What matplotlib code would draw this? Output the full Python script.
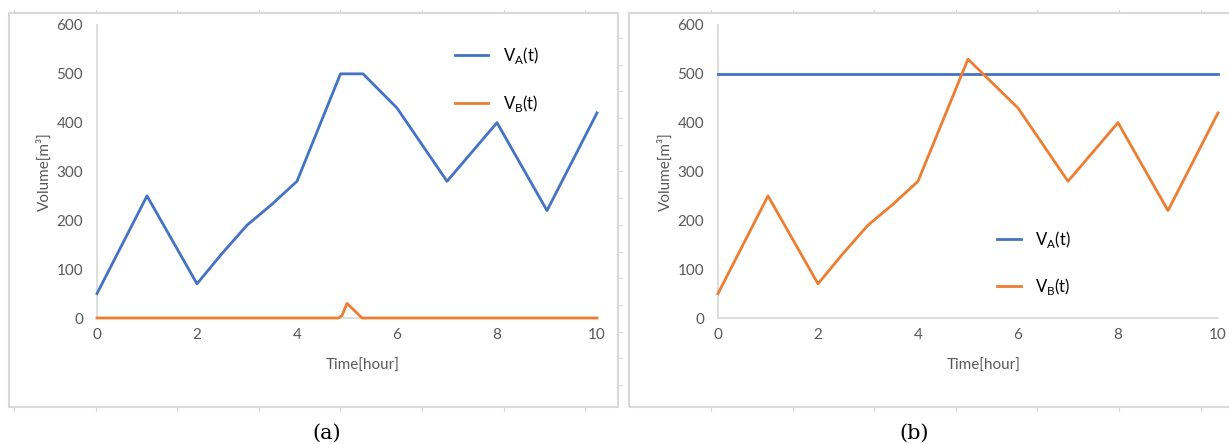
import matplotlib
matplotlib.use('Agg')
import matplotlib.pyplot as plt
from matplotlib.patches import Rectangle
from matplotlib.lines import Line2D

plt.rcParams['font.family'] = ['Lato', 'DejaVu Sans']

# tank volumes over time, case (a)
t_a_A = [0, 1, 2, 2.5, 3, 3.5, 4, 4.87, 5.32, 6, 7, 8, 9, 10]
vol_a_A = [50, 250, 70, 132, 190, 233, 280, 500, 500, 430, 280, 400, 220, 420]
t_a_B = [0, 4.83, 4.9, 5.0, 5.3, 10]
vol_a_B = [0, 0, 5, 30, 0, 0]

# case (b)
t_b_A = [0, 10]
vol_b_A = [500, 500]
t_b_B = [0, 1, 2, 2.5, 3, 3.5, 4, 5, 6, 7, 8, 9, 10]
vol_b_B = [50, 250, 70, 132, 190, 233, 280, 530, 430, 280, 400, 220, 420]

xticks = [0, 2, 4, 6, 8, 10]
yticks = [0, 100, 200, 300, 400, 500, 600]
captions = ['(a)', '(b)']

BLUE = '#4472C4'
ORANGE = '#ED7D31'
GREY_TXT = '#595959'
GREY_LINE = '#D9D9D9'

W, H = 1229, 444
fig = plt.figure(figsize=(W / 100, H / 100), dpi=100)


def fx(px):
    return px / W


def fy(py):
    return 1 - py / H


def style_axes(ax):
    ax.set_xlim(0, 10)
    ax.set_ylim(0, 600)
    ax.set_xticks(xticks)
    ax.set_yticks(yticks)
    for s in ['top', 'right']:
        ax.spines[s].set_visible(False)
    ax.spines['left'].set_color(GREY_LINE)
    ax.spines['bottom'].set_color(GREY_LINE)
    ax.spines['left'].set_linewidth(1.2)
    ax.spines['bottom'].set_linewidth(1.2)
    ax.tick_params(axis='both', length=0, labelsize=11, labelcolor=GREY_TXT)
    ax.tick_params(axis='y', pad=10)
    ax.tick_params(axis='x', pad=7)
    ax.set_xlabel('Time[hour]', fontsize=11, color=GREY_TXT)
    ax.set_ylabel('Volume[m³]', fontsize=11, color=GREY_TXT)
    ax.xaxis.set_label_coords(0.532, -0.14)
    ax.yaxis.set_label_coords(-0.09, 0.5)


lab_A = r'V$_\mathregular{A}$(t)'
lab_B = r'V$_\mathregular{B}$(t)'

ax1 = fig.add_axes([fx(97), fy(318), fx(500), 293 / H])
ax1.plot(t_a_A, vol_a_A, color=BLUE, lw=2, label=lab_A, clip_on=False, zorder=3)
ax1.plot(t_a_B, vol_a_B, color=ORANGE, lw=2, label=lab_B, clip_on=False, zorder=3)
style_axes(ax1)
ax1.legend(loc='upper left', bbox_to_anchor=(fx(455), fy(45)), bbox_transform=fig.transFigure,
           frameon=False, borderpad=0, borderaxespad=0, fontsize=12,
           handlelength=2.0, handletextpad=0.9, labelspacing=1.6)

ax2 = fig.add_axes([fx(718), fy(318), fx(500), 293 / H])
ax2.plot(t_b_A, vol_b_A, color=BLUE, lw=2, label=lab_A, clip_on=False, zorder=3)
ax2.plot(t_b_B, vol_b_B, color=ORANGE, lw=2, label=lab_B, clip_on=False, zorder=3)
style_axes(ax2)
ax2.legend(loc='upper left', bbox_to_anchor=(fx(997), fy(229)), bbox_transform=fig.transFigure,
           frameon=False, borderpad=0, borderaxespad=0, fontsize=12,
           handlelength=1.45, handletextpad=0.85, labelspacing=1.55)

# chart area frames with their faint ruler marks
fig.patches.append(Rectangle((fx(9), fy(407)), fx(609), 394 / H, transform=fig.transFigure,
                             fill=False, ec=GREY_LINE, lw=1.5))
fig.patches.append(Rectangle((fx(629), fy(407)), fx(620), 394 / H, transform=fig.transFigure,
                             fill=False, ec=GREY_LINE, lw=1.5))
for x0, n in [(14, 8), (711, 7)]:
    for k in range(n):
        px = x0 + 81.6 * k
        fig.lines.append(Line2D([fx(px), fx(px)], [fy(10), fy(13)], transform=fig.transFigure,
                                color=GREY_LINE, lw=0.8))
        fig.lines.append(Line2D([fx(px), fx(px)], [fy(407), fy(411)], transform=fig.transFigure,
                                color=GREY_LINE, lw=0.8))
for k in range(14):
    py = 38 + 26.7 * k
    fig.lines.append(Line2D([fx(619), fx(622)], [fy(py), fy(py)], transform=fig.transFigure,
                            color=GREY_LINE, lw=0.8))

fig.text(fx(327), fy(433), captions[0], ha='center', va='center', fontsize=15, family='DejaVu Serif')
fig.text(fx(914), fy(433), captions[1], ha='center', va='center', fontsize=15, family='DejaVu Serif')

fig.savefig('out.png', dpi=100)
